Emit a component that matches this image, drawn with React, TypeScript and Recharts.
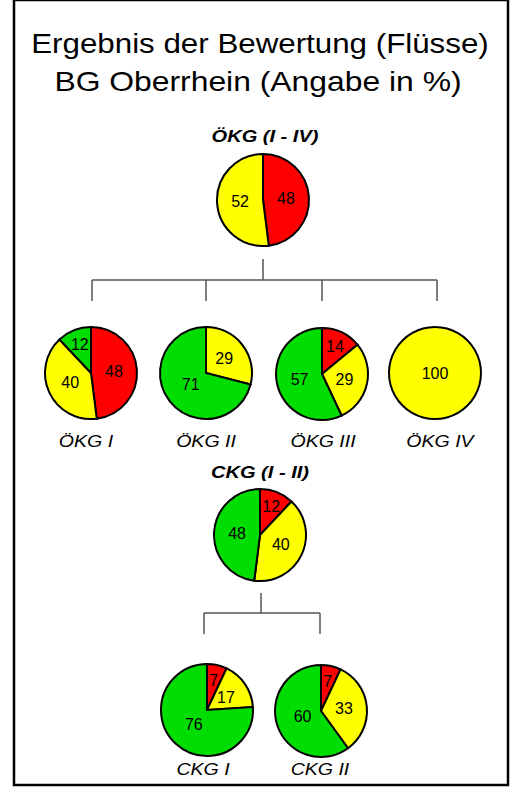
import React from "react";
import { PieChart, Pie, Cell } from "recharts";

// Anteile je Bewertungsklasse (rot, gelb, grün) in %
const classNames = ["schlecht", "mäßig", "gut"];
const classColors = ["#ff0000", "#ffff00", "#00dd00"];

const okgGesamt = [48, 52, 0];
const okgI = [48, 40, 12];
const okgII = [0, 29, 71];
const okgIII = [14, 29, 57];
const okgIV = [0, 100, 0];
const ckgGesamt = [12, 40, 48];
const ckgI = [7, 17, 76];
const ckgII = [7, 33, 60];

const title = ["Ergebnis der Bewertung (Flüsse)", "BG Oberrhein (Angabe in %)"];

const FONT = "'Liberation Sans', Arial, sans-serif";
const R = 46;
const RADIAN = Math.PI / 180;

const pies = [
  { id: "okg", values: okgGesamt, cx: 263, cy: 200 },
  { id: "okg1", values: okgI, cx: 91, cy: 373, label: "ÖKG I", lx: 86 },
  { id: "okg2", values: okgII, cx: 206, cy: 373, label: "ÖKG II", lx: 206 },
  { id: "okg3", values: okgIII, cx: 322, cy: 374, label: "ÖKG III", lx: 323 },
  { id: "okg4", values: okgIV, cx: 435, cy: 373, label: "ÖKG IV", lx: 440 },
  { id: "ckg", values: ckgGesamt, cx: 260, cy: 535 },
  { id: "ckg1", values: ckgI, cx: 207, cy: 710, label: "CKG I", lx: 203 },
  { id: "ckg2", values: ckgII, cx: 321, cy: 711, label: "CKG II", lx: 320 },
];

const toData = (values: number[]) =>
  values
    .map((v, i) => ({ name: classNames[i], value: v, color: classColors[i] }))
    .filter((d) => d.value > 0);

const renderLabel = (props: any) => {
  const { cx, cy, midAngle, outerRadius, value } = props;
  let x = cx;
  let y = cy;
  if (value < 100) {
    const f = value < 15 ? 0.66 : value >= 60 ? 0.42 : 0.5;
    const r = outerRadius * f;
    x = cx + r * Math.cos(-midAngle * RADIAN);
    y = cy + r * Math.sin(-midAngle * RADIAN);
  }
  return (
    <text x={x} y={y} textAnchor="middle" dominantBaseline="central" fontSize={16} fontFamily={FONT} fill="#000">
      {value}
    </text>
  );
};

// horizontal gestreckter Text wie im Original
const Stretched = ({ x, y, sx, children, ...rest }: any) => (
  <text transform={`translate(${x} ${y}) scale(${sx} 1)`} x={0} y={0} textAnchor="middle" fontFamily={FONT} fill="#000" {...rest}>
    {children}
  </text>
);

const lineStyle = { stroke: "#555", strokeWidth: 1.5, fill: "none" };

export default function App() {
  return (
    <div style={{ position: "absolute", left: 0, top: 0, width: 511, height: 797, background: "#fff" }}>
      <PieChart width={511} height={797} margin={{ top: 0, right: 0, bottom: 0, left: 0 }}>
        {pies.map((p) => {
          const data = toData(p.values);
          const full = data.length === 1;
          return (
            <Pie
              key={p.id}
              data={data}
              dataKey="value"
              nameKey="name"
              cx={p.cx}
              cy={p.cy}
              outerRadius={R}
              startAngle={90}
              endAngle={-270}
              label={renderLabel}
              labelLine={false}
              isAnimationActive={false}
            >
              {data.map((d) => (
                <Cell key={d.name} fill={d.color} stroke={full ? "none" : "#000"} strokeWidth={2} />
              ))}
            </Pie>
          );
        })}
        {pies
          .filter((p) => toData(p.values).length === 1)
          .map((p) => (
            <Pie
              key={p.id + "-ring"}
              data={[{ name: "ring", value: 1 }]}
              dataKey="value"
              cx={p.cx}
              cy={p.cy}
              innerRadius={R - 1}
              outerRadius={R + 1}
              startAngle={90}
              endAngle={-270}
              fill="#000"
              stroke="none"
              isAnimationActive={false}
            />
          ))}
      </PieChart>
      <svg width={511} height={797} style={{ position: "absolute", left: 0, top: 0, pointerEvents: "none" }}>
        <rect x={14} y={0} width={494} height={785} fill="none" stroke="#000" strokeWidth={2.5} />
        <Stretched x={260} y={53} sx={1.16} fontSize={27}>
          {title[0]}
        </Stretched>
        <Stretched x={258} y={91} sx={1.18} fontSize={27}>
          {title[1]}
        </Stretched>
        <Stretched x={265} y={142} sx={1.18} fontSize={17} fontWeight="bold" fontStyle="italic">
          ÖKG (I - IV)
        </Stretched>
        <Stretched x={260} y={478} sx={1.18} fontSize={17} fontWeight="bold" fontStyle="italic">
          CKG (I - II)
        </Stretched>
        {pies
          .filter((p) => p.label)
          .map((p) => (
            <Stretched key={p.id + "-t"} x={p.lx} y={p.cy > 600 ? 775 : 447} sx={1.15} fontSize={17} fontStyle="italic">
              {p.label}
            </Stretched>
          ))}
        {/* Baum ÖKG */}
        <path d="M263 259 V280 M92 280 H437 M92 280 V301 M206 280 V301 M322 280 V301 M437 280 V301" style={lineStyle} />
        {/* Baum CKG */}
        <path d="M261 593 V613 M204 613 H320 M204 613 V634 M320 613 V634" style={lineStyle} />
      </svg>
    </div>
  );
}
